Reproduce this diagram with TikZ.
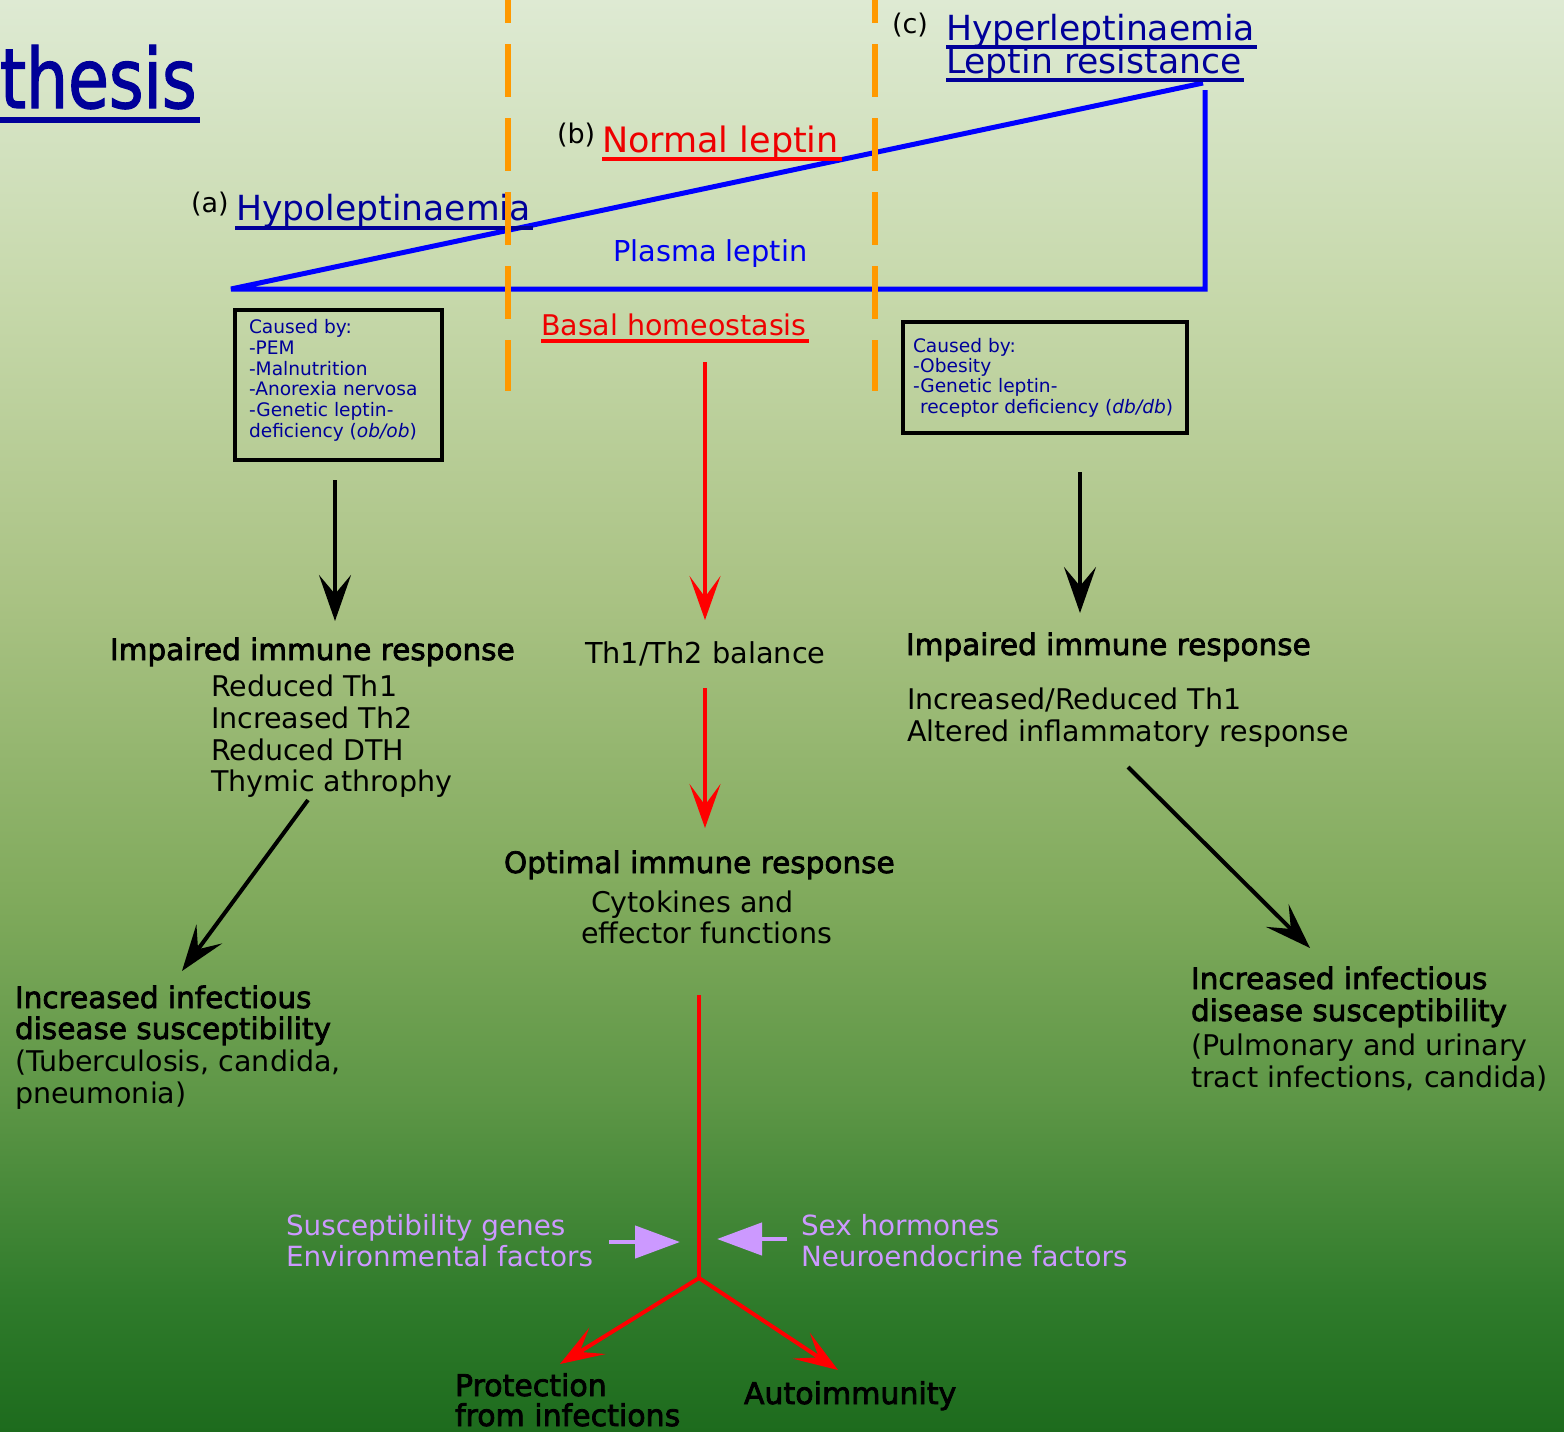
\documentclass[tikz,border=0pt]{standalone}
\usepackage{fontspec}
\setmainfont{DejaVu Sans}
\newfontfamily\hdfont[FakeBold=2.5]{DejaVu Sans}
\newfontfamily\titlefont[FakeStretch=0.8,FakeBold=1.5]{DejaVu Sans}
\usetikzlibrary{arrows.meta}
\definecolor{dblue}{HTML}{000099}
\definecolor{pblue}{HTML}{0000EE}
\definecolor{lblue}{HTML}{0000FF}
\definecolor{myred}{HTML}{EE0000}
\definecolor{myorange}{HTML}{FF9900}
\definecolor{mypurple}{HTML}{CC99FF}
\definecolor{gA}{HTML}{DEEAD3}
\definecolor{gB}{HTML}{C6D8AA}
\definecolor{gC}{HTML}{A9C283}
\definecolor{gD}{HTML}{80AA5C}
\definecolor{gE}{HTML}{5D9646}
\definecolor{gF}{HTML}{2F7B2B}
\definecolor{gG}{HTML}{1D6B1D}
\pgfdeclareverticalshading{bgshade}{100bp}{color(0bp)=(gG); color(25bp)=(gG); color(29.61bp)=(gF); color(36.59bp)=(gE); color(43.58bp)=(gD); color(54.05bp)=(gC); color(64.53bp)=(gB); color(75bp)=(gA); color(100bp)=(gA)}
\newcommand\fsz[1]{\fontsize{#1}{#1}\selectfont}
\tikzset{
  txt/.style={anchor=base west, inner sep=0pt, outer sep=0pt},
  body/.style={txt, font=\fsz{28.5}},
  head/.style={txt, font=\hdfont\fsz{29.5}},
  boxtxt/.style={txt, text=dblue, font=\fsz{18.6}},
  purtxt/.style={txt, text=mypurple, font=\fsz{27.8}},
  ubar/.style={line width=4pt},
  causebox/.style={draw=black, line width=4pt, inner sep=0pt, anchor=north west},
  blkarrow/.style={draw=black, line width=4pt, -{Stealth[length=46pt, width=32pt, inset=19pt]}},
  redarrow/.style={draw=red, line width=4pt, -{Stealth[length=44pt, width=31pt, inset=21pt]}},
  redline/.style={draw=red, line width=4pt},
  purarrow/.style={draw=mypurple, line width=4.5pt, -{Triangle[length=45pt, width=32pt]}},
  leptin/.style={draw=lblue, line width=5pt, miter limit=3},
  divider/.style={draw=myorange, line width=6pt, dash pattern=on 53pt off 21pt}
}
\begin{document}
\begin{tikzpicture}[x=1pt,y=-1pt]
\useasboundingbox (0,0) rectangle (1564,1432);
\fill[shading=bgshade] (0,0) rectangle (1564,1432);

% title
\node[txt, text=dblue, font=\titlefont\fsz{83}] (title) at (0,108) {thesis};
\draw[dblue, line width=6pt] ([shift={(0,12)}]title.base west) -- ([shift={(3,12)}]title.base east);

% plasma leptin triangle
\draw[leptin] (1203,83) -- (231,289) -- (1205,289) -- (1205,90);

% headers
\node[txt, font=\fsz{27}] (la) at (191,212) {(a)};
\node[txt, text=dblue, font=\fsz{34.6}] (hypo) at (236,220) {Hypoleptinaemia};
\draw[dblue, ubar] ([shift={(-1,8)}]hypo.base west) -- ([shift={(2,8)}]hypo.base east);

\node[txt, font=\fsz{27}] (lb) at (557,143) {(b)};
\node[txt, text=myred, font=\fsz{35}] (norm) at (602,152) {Normal leptin};
\draw[red, ubar] ([shift={(0,7)}]norm.base west) -- ([shift={(3,7)}]norm.base east);

\node[txt, font=\fsz{27}] (lc) at (892,33) {(c)};
\node[txt, text=dblue, font=\fsz{34.6}] (hyper) at (946,40) {Hyperleptinaemia};
\draw[dblue, ubar] ([shift={(0,7)}]hyper.base west) -- ([shift={(2,7)}]hyper.base east);
\node[txt, text=dblue, font=\fsz{34.6}] (resist) at (946,73) {Leptin resistance};
\draw[dblue, ubar] ([shift={(0,7)}]resist.base west) -- ([shift={(3,7)}]resist.base east);

\node[txt, text=pblue, font=\fsz{28.8}] (plasma) at (613,261) {Plasma leptin};
\node[txt, text=myred, font=\fsz{28.5}] (basal) at (541,335) {Basal homeostasis};
\draw[red, line width=3.5pt] ([shift={(0,6)}]basal.base west) -- ([shift={(2,6)}]basal.base east);

% cause boxes
\node[causebox, minimum width=207pt, minimum height=150pt] (boxa) at (233,308) {};
\node[boxtxt] (a1) at (249,333) {Caused by:};
\node[boxtxt] (a2) at (249,354) {-PEM};
\node[boxtxt] (a3) at (249,375) {-Malnutrition};
\node[boxtxt] (a4) at (249,395) {-Anorexia nervosa};
\node[boxtxt] (a5) at (249,416) {-Genetic leptin-};
\node[boxtxt] (a6) at (249,437) {deficiency (\textit{ob/ob})};

\node[causebox, minimum width=284pt, minimum height=111pt] (boxc) at (901,320) {};
\node[boxtxt] (c1) at (913,352) {Caused by:};
\node[boxtxt] (c2) at (913,372) {-Obesity};
\node[boxtxt] (c3) at (913,392) {-Genetic leptin-};
\node[boxtxt] (c4) at (920,413) {receptor deficiency (\textit{db/db})};

% left column
\node[head] (impA) at (110,660) {Impaired immune response};
\node[body] (ra1) at (211,696) {Reduced Th1};
\node[body] (ra2) at (211,728) {Increased Th2};
\node[body] (ra3) at (211,760) {Reduced DTH};
\node[body] (ra4) at (211,791) {Thymic athrophy};

\node[head] (infA1) at (15,1008) {Increased infectious};
\node[head] (infA2) at (15,1039) {disease susceptibility};
\node[body] (infA3) at (15,1071) {(Tuberculosis, candida,};
\node[body] (infA4) at (15,1103) {pneumonia)};

% middle column
\node[body, font=\fsz{28.8}] (th) at (585,663) {Th1/Th2 balance};
\node[head] (opt) at (504,873) {Optimal immune response};
\node[body] (cyt) at (591,912) {Cytokines and};
\node[body] (eff) at (581,943) {effector functions};

% right column
\node[head] (impC) at (906,655) {Impaired immune response};
\node[body] (rc1) at (907,709) {Increased/Reduced Th1};
\node[body] (rc2) at (907,741) {Altered inflammatory response};

\node[head] (infC1) at (1191,989) {Increased infectious};
\node[head] (infC2) at (1191,1021) {disease susceptibility};
\node[body] (infC3) at (1191,1055) {(Pulmonary and urinary};
\node[body] (infC4) at (1191,1087) {tract infections, candida)};

% bottom
\node[purtxt] (sus) at (286,1235) {Susceptibility genes};
\node[purtxt] (env) at (286,1266) {Environmental factors};
\node[purtxt] (sex) at (801,1235) {Sex hormones};
\node[purtxt] (neu) at (801,1266) {Neuroendocrine factors};

\node[head, font=\hdfont\fsz{30}] (prot1) at (455,1396) {Protection};
\node[head, font=\hdfont\fsz{30}] (prot2) at (455,1426) {from infections};
\node[head, font=\hdfont\fsz{30}] (auto) at (744,1404) {Autoimmunity};

% coordinates for connector ends
\coordinate (la1) at (335,480);
\coordinate (la2) at (335,621);
\coordinate (ld1) at (308,800);
\coordinate (ld2) at (182,971);
\coordinate (rc1s) at (1080,472);
\coordinate (rc1e) at (1080,613);
\coordinate (rd1) at (1128,767);
\coordinate (rd2) at (1310,948);
\coordinate (m1s) at (705,362);
\coordinate (m1e) at (705,620);
\coordinate (m2s) at (705,688);
\coordinate (m2e) at (705,828);
\coordinate (stem) at (699,995);
\coordinate (fork) at (699,1278);
\coordinate (tipP) at (560,1364);
\coordinate (tipA) at (838,1370);
\coordinate (pl1) at (609,1242);
\coordinate (pl2) at (680,1242);
\coordinate (pr1) at (787,1239);
\coordinate (pr2) at (717,1239);

% connectors
\draw[blkarrow] (la1) -- (la2);
\draw[blkarrow] (ld1) -- (ld2);
\draw[blkarrow] (rc1s) -- (rc1e);
\draw[blkarrow] (rd1) -- (rd2);
\draw[redarrow] (m1s) -- (m1e);
\draw[redarrow] (m2s) -- (m2e);
\draw[redline] (stem) -- (fork);
\draw[redarrow] (fork) -- (tipP);
\draw[redarrow] (fork) -- (tipA);
\draw[purarrow] (pl1) -- (pl2);
\draw[purarrow] (pr1) -- (pr2);

% dividers
\draw[divider] (508,-30) -- (508,391);
\draw[divider] (875,-30) -- (875,391);
\end{tikzpicture}
\end{document}
